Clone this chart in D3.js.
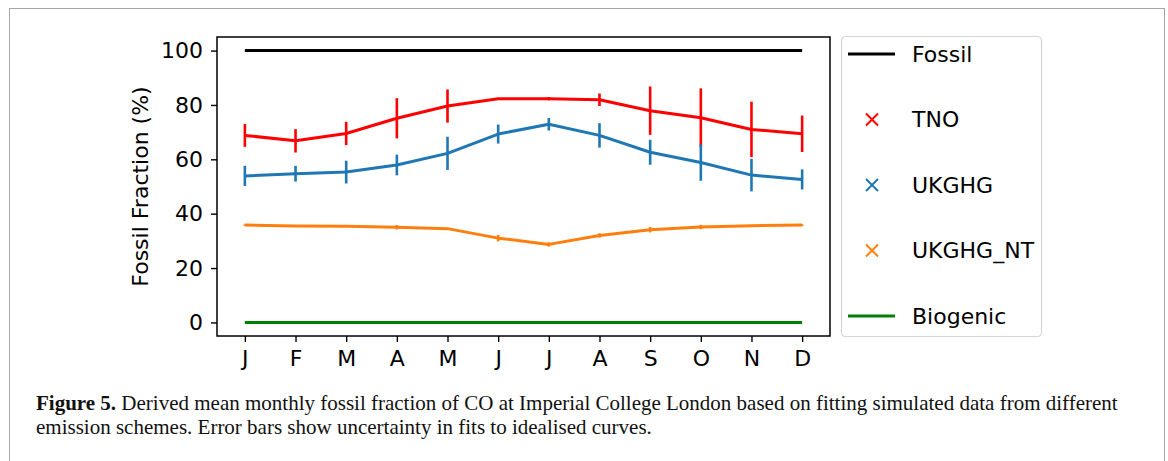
<!DOCTYPE html>
<html>
<head>
<meta charset="utf-8">
<script src="https://cdn.jsdelivr.net/npm/d3@7"></script>
<style>
  body { margin: 0; background: #fff; }
  svg { display: block; }
</style>
</head>
<body>
<div id="chart"></div>
<script>
// months on the x axis
const months = ["J", "F", "M", "A", "M", "J", "J", "A", "S", "O", "N", "D"];
const yTicks = [0, 20, 40, 60, 80, 100];

// fossil fraction (%) and error half widths
const fossil = [100, 100, 100, 100, 100, 100, 100, 100, 100, 100, 100, 100];
const tno = [68.8, 66.8, 69.5, 75.1, 79.6, 82.3, 82.3, 81.9, 77.9, 75.3, 71.0, 69.4];
const tnoErr = [4.2, 4.3, 4.3, 7.4, 6.1, 0.3, 0.6, 2.3, 8.9, 10.8, 10.2, 6.7];
const ukghg = [53.9, 54.7, 55.3, 57.9, 62.2, 69.3, 72.9, 68.8, 62.6, 58.8, 54.2, 52.6];
const ukghgErr = [3.7, 2.9, 4.2, 3.8, 6.1, 3.5, 2.3, 4.5, 4.6, 6.7, 6.0, 3.7];
const ukghgNt = [35.8, 35.5, 35.4, 35.0, 34.5, 31.0, 28.7, 32.0, 34.1, 35.1, 35.6, 35.8];
const ukghgNtErr = [0.3, 0.2, 0.3, 0.8, 0.3, 1.2, 0.8, 0.8, 1.0, 0.8, 0.3, 0.3];
const biogenic = [0, 0, 0, 0, 0, 0, 0, 0, 0, 0, 0, 0];

const series = [
    { name: "Fossil", values: fossil, err: null, color: "#000000", legend: "line" },
    { name: "TNO", values: tno, err: tnoErr, color: "#ff0000", legend: "x" },
    { name: "UKGHG", values: ukghg, err: ukghgErr, color: "#1f77b4", legend: "x" },
    { name: "UKGHG_NT", values: ukghgNt, err: ukghgNtErr, color: "#ff7f0e", legend: "x" },
    { name: "Biogenic", values: biogenic, err: null, color: "#008000", legend: "line" },
];

const width = 1168;
const height = 461;
const margin = { left: 217, right: 338, top: 37, bottom: 125 };
const tickFont = "'DejaVu Sans', sans-serif";
const fontSize = "22px";

const svg = d3.select("#chart")
    .append("svg")
    .attr("width", width)
    .attr("height", height);

// page frame
svg.append("rect")
    .attr("x", 9.5)
    .attr("y", 8.5)
    .attr("width", 1155)
    .attr("height", 470)
    .attr("fill", "none")
    .attr("stroke", "#a6a6a6")
    .attr("stroke-width", 1);

const x = d3.scaleLinear()
    .domain([-0.55, 11.55])
    .range([margin.left, width - margin.right]);

const y = d3.scaleLinear()
    .domain([-5, 105])
    .range([height - margin.bottom, margin.top]);

const line = d3.line()
    .x((d, i) => x(i))
    .y(d => y(d));

const plot = svg.append("g");

// lines
plot.selectAll("path.series")
    .data(series)
    .join("path")
    .attr("class", "series")
    .attr("d", d => line(d.values))
    .attr("fill", "none")
    .attr("stroke", d => d.color)
    .attr("stroke-width", 3)
    .attr("stroke-linejoin", "round");

// error bars
series.filter(s => s.err).forEach(s => {
    plot.selectAll(null)
        .data(s.values)
        .join("line")
        .attr("x1", (d, i) => x(i))
        .attr("x2", (d, i) => x(i))
        .attr("y1", (d, i) => y(d - s.err[i]))
        .attr("y2", (d, i) => y(d + s.err[i]))
        .attr("stroke", s.color)
        .attr("stroke-width", 2.6);
});

// axes
const xAxis = svg.append("g")
    .attr("transform", `translate(0,${height - margin.bottom})`)
    .call(d3.axisBottom(x)
        .tickValues(d3.range(12))
        .tickFormat(i => months[i])
        .tickSize(6)
        .tickPadding(8)
        .tickSizeOuter(0));

const yAxis = svg.append("g")
    .attr("transform", `translate(${margin.left},0)`)
    .call(d3.axisLeft(y)
        .tickValues(yTicks)
        .tickSize(6)
        .tickPadding(8)
        .tickSizeOuter(0));

[xAxis, yAxis].forEach(ax => {
    ax.select(".domain").remove();
    ax.selectAll(".tick line").attr("stroke", "#000").attr("stroke-width", 1.4);
    ax.selectAll(".tick text")
        .attr("fill", "#000")
        .style("font-family", tickFont)
        .style("font-size", fontSize);
});

// frame of the plot area
svg.append("rect")
    .attr("x", margin.left)
    .attr("y", margin.top)
    .attr("width", width - margin.left - margin.right)
    .attr("height", height - margin.top - margin.bottom)
    .attr("fill", "none")
    .attr("stroke", "#000")
    .attr("stroke-width", 1.5);

svg.append("text")
    .attr("transform", `translate(148,${(margin.top + height - margin.bottom) / 2}) rotate(-90)`)
    .attr("text-anchor", "middle")
    .style("font-family", tickFont)
    .style("font-size", fontSize)
    .text("Fossil Fraction (%)");

// legend
const legend = svg.append("g").attr("transform", "translate(841,36)");

legend.append("rect")
    .attr("x", 0.5)
    .attr("y", 0.5)
    .attr("width", 200)
    .attr("height", 300)
    .attr("rx", 4)
    .attr("fill", "#fff")
    .attr("stroke", "#d5d5d5")
    .attr("stroke-width", 1.2);

const items = legend.selectAll("g.item")
    .data(series)
    .join("g")
    .attr("class", "item")
    .attr("transform", (d, i) => `translate(0,${18 + i * 65.5})`);

items.filter(d => d.legend === "line")
    .append("line")
    .attr("x1", 7)
    .attr("x2", 54)
    .attr("stroke", d => d.color)
    .attr("stroke-width", 3);

items.filter(d => d.legend === "x")
    .append("path")
    .attr("d", "M25,-6L37,6M25,6L37,-6")
    .attr("stroke", d => d.color)
    .attr("stroke-width", 2);

items.append("text")
    .attr("x", 71)
    .attr("dy", "0.35em")
    .style("font-family", tickFont)
    .style("font-size", fontSize)
    .text(d => d.name);

// caption
const caption = svg.append("text")
    .style("font-family", "'Liberation Serif', serif")
    .style("font-size", "21px")
    .attr("fill", "#111");

const line1 = caption.append("tspan").attr("x", 36).attr("y", 410);
line1.append("tspan").style("font-weight", "bold").text("Figure 5.");
line1.append("tspan").text(" Derived mean monthly fossil fraction of CO at Imperial College London based on fitting simulated data from different");

caption.append("tspan")
    .attr("x", 36)
    .attr("y", 434)
    .text("emission schemes. Error bars show uncertainty in fits to idealised curves.");
</script>
</body>
</html>
